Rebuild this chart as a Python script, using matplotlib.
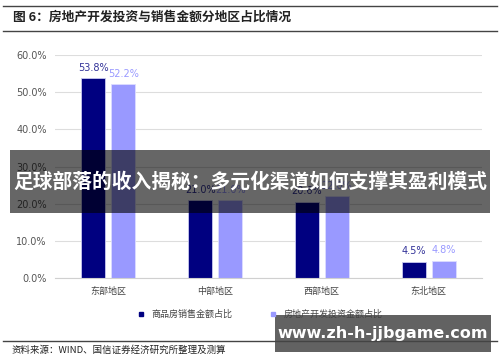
import matplotlib

matplotlib.use("Agg")
import matplotlib.pyplot as plt
import numpy as np
from matplotlib.lines import Line2D
from matplotlib.patches import Rectangle

plt.rcParams["font.family"] = ["Noto Sans CJK SC", "DejaVu Sans"]

regions = ["东部地区", "中部地区", "西部地区", "东北地区"]
sales_share = [53.8, 21.0, 20.6, 4.5]
invest_share = [52.2, 21.0, 22.0, 4.8]
series_names = ["商品房销售金额占比", "房地产开发投资金额占比"]
yticks = [0, 10, 20, 30, 40, 50, 60]

DARK = "#000080"
LIGHT = "#9999FF"

fig = plt.figure(figsize=(5.0, 3.62), dpi=100)
ax = fig.add_axes([0.11, 0.231, 0.854, 0.617])

x = np.arange(len(regions))
w = 0.225
b1 = ax.bar(x - 0.14, sales_share, w, color=DARK, edgecolor="#c8c8f0", linewidth=0.6)
b2 = ax.bar(x + 0.14, invest_share, w, color=LIGHT, edgecolor="#dcdcff", linewidth=0.6)

for bars, vals, col in ((b1, sales_share, "#333399"), (b2, invest_share, LIGHT)):
    for r, v in zip(bars, vals):
        ax.annotate(f"{v:.1f}%", (r.get_x() + r.get_width() / 2, v),
                    xytext=(0, 4), textcoords="offset points",
                    ha="center", va="bottom", fontsize=7, color=col,
                    family=["DejaVu Sans"])

ax.set_xlim(-0.5, len(regions) - 0.5)
ax.set_ylim(0, 60)
ax.set_yticks(yticks)
ax.set_yticklabels([f"{t:.1f}%" for t in yticks], fontsize=7, color="#555555",
                   family=["DejaVu Sans"])
ax.set_xticks(x)
ax.set_xticklabels(regions, fontsize=6.5, color="#444444")
ax.tick_params(length=0, pad=6)
ax.grid(axis="y", color="#dddddd", linewidth=0.8)
ax.set_axisbelow(True)
for s in ("top", "right", "left"):
    ax.spines[s].set_visible(False)
ax.spines["bottom"].set_color("#d0d0d0")

handles = [Line2D([], [], marker="s", linestyle="", markersize=3.5, color=c)
           for c in (DARK, LIGHT)]
fig.legend(handles, series_names, loc="center", bbox_to_anchor=(0.515, 0.132),
           ncol=2, frameon=False, fontsize=6.5, handletextpad=0.2,
           columnspacing=3.5, labelcolor="#444444")

# header and footer rules
fig.add_artist(Line2D([0.006, 0.994], [0.983, 0.983], color="#444444", linewidth=1.0))
fig.add_artist(Line2D([0.006, 0.994], [0.914, 0.914], color="#444444", linewidth=1.0))
fig.text(0.026, 0.952, "图 6：房地产开发投资与销售金额分地区占比情况", fontsize=9.2,
         fontweight="bold", color="#222222", va="center")
fig.add_artist(Line2D([0.006, 0.994], [0.058, 0.058], color="#444444", linewidth=1.0))
fig.text(0.024, 0.033, "资料来源：WIND、国信证券经济研究所整理及测算", fontsize=6.8,
         color="#222222", va="center")

# overlay band and watermark
fig.add_artist(Rectangle((0.02, 0.412), 0.96, 0.174, transform=fig.transFigure,
                         facecolor="black", alpha=0.6, edgecolor="none"))
fig.text(0.5, 0.497, "足球部落的收入揭秘：多元化渠道如何支撑其盈利模式", fontsize=14.2,
         fontweight="bold", color="white", ha="center", va="center")
fig.add_artist(Rectangle((0.55, 0.028), 0.432, 0.102, transform=fig.transFigure,
                         facecolor="#5a5a5a", alpha=0.95, edgecolor="none"))
fig.text(0.766, 0.079, "www.zh-h-jjbgame.com", fontsize=11.5, fontweight="bold",
         color="white", ha="center", va="center", family=["DejaVu Sans"])

fig.savefig("out.png", dpi=100, facecolor="white")
